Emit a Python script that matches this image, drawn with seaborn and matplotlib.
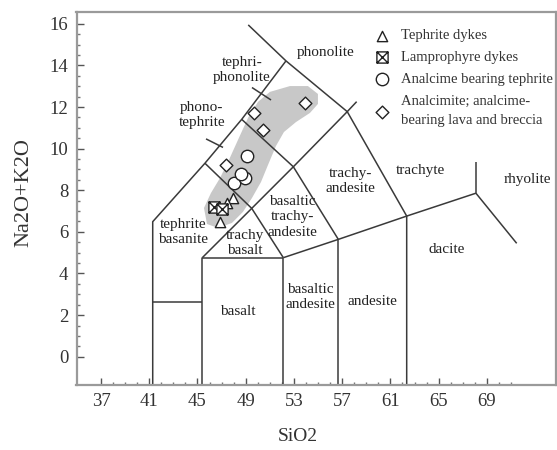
import matplotlib
matplotlib.use("Agg")
import matplotlib.pyplot as plt
import seaborn as sns
from matplotlib.path import Path
from matplotlib.ticker import FixedLocator

# ---- samples: SiO2 (wt%) vs Na2O+K2O (wt%) ----
tephrite_sio2 = [47.95, 47.45, 46.83]
tephrite_alk = [7.65, 7.39, 6.48]
lamprophyre_sio2 = [46.37, 47.07]
lamprophyre_alk = [7.20, 7.10]
anal_tephrite_sio2 = [47.99, 48.98, 48.57, 49.08]
anal_tephrite_alk = [8.34, 8.57, 8.76, 9.65]
analcimite_sio2 = [53.92, 49.69, 50.47, 47.39]
analcimite_alk = [12.18, 11.72, 10.91, 9.22]

group_labels = ["Tephrite dykes", "Lamprophyre dykes", "Analcime bearing tephrite",
                "Analcimite; analcime-\nbearing lava and breccia"]

# ---- shaded envelope of the sample population ----
field_sio2 = [45.79, 45.54, 46.12, 46.87, 47.61, 48.36, 49.19, 50.02, 51.01, 52.67,
              54.16, 54.99, 54.99, 54.33, 53.17, 52.17, 51.51, 50.85, 50.27, 49.52,
              48.77, 47.86, 46.70]
field_alk = [6.38, 7.15, 7.87, 8.59, 9.46, 10.42, 11.48, 12.25, 12.73, 13.01,
             13.01, 12.63, 12.15, 11.72, 11.28, 10.80, 10.13, 9.22, 8.40, 7.63,
             6.96, 6.43, 6.19]

# ---- TAS field boundaries ----
Y_BOTTOM = -1.36
A = (41.29, 6.49)
B = (45.62, 9.30)
C = (48.67, 11.41)
D = (52.34, 14.22)
E = (57.42, 11.78)
F = (52.95, 9.13)
G = (49.50, 7.13)
H = (45.40, 4.76)
I = (52.12, 4.76)
J = (56.68, 5.64)
K = (62.35, 6.76)
L = (68.09, 7.86)
foidite_top = (49.21, 15.95)
phonolite_stub = (58.20, 12.26)
rhyolite_top = (68.09, 9.38)
rhyolite_end = (71.47, 5.45)
picro_alk = 2.63

boundaries = [
    [(A[0], Y_BOTTOM), A, B, C, D],
    [(A[0], picro_alk), (H[0], picro_alk)],
    [(H[0], Y_BOTTOM), H, I, (I[0], Y_BOTTOM)],
    [H, G, F, E, phonolite_stub],
    [B, G, I],
    [C, F, J],
    [I, J, K, L],
    [J, (J[0], Y_BOTTOM)],
    [foidite_top, D, E, K, (K[0], Y_BOTTOM)],
    [L, rhyolite_top],
    [L, rhyolite_end],
    # label leaders
    [(45.71, 10.47), (47.12, 10.06)],
    [(49.52, 12.94), (51.10, 12.34)],
]

field_names = [
    ("tephri-\nphonolite", 48.69, 13.78),
    ("phono-\ntephrite", 45.37, 11.62),
    ("phonolite", 55.66, 14.60),
    ("tephrite\nbasanite", 43.80, 6.00),
    ("trachy\nbasalt", 48.94, 5.47),
    ("basaltic\ntrachy-\nandesite", 52.84, 6.72),
    ("trachy-\nandesite", 57.65, 8.45),
    ("trachyte", 63.45, 8.97),
    ("rhyolite", 72.32, 8.50),
    ("dacite", 65.69, 5.13),
    ("andesite", 59.55, 2.63),
    ("basaltic\nandesite", 54.33, 2.87),
    ("basalt", 48.36, 2.15),
]

x_ticks = [37, 41, 45, 49, 53, 57, 61, 65, 69]
x_minor = list(range(37, 72))
y_ticks = [0, 2, 4, 6, 8, 10, 12, 14, 16]
y_minor = [v / 2 for v in range(0, 33)]

sns.set_style("ticks")
plt.rcParams["font.family"] = ["Liberation Serif", "DejaVu Serif"]

fig = plt.figure(figsize=(5.57, 4.5), dpi=100)
ax = fig.add_axes([76.5 / 557, 1 - 385 / 450, (556 - 76.5) / 557, (385 - 12) / 450])

ax.fill(field_sio2, field_alk, color="#c8c8c8", lw=0, zorder=1)

for seg in boundaries:
    xs = [p[0] for p in seg]
    ys = [p[1] for p in seg]
    ax.plot(xs, ys, color="#3a3a3a", lw=1.1, zorder=2, solid_capstyle="butt")

boxed_x = Path(
    [(-1, -1), (1, -1), (1, 1), (-1, 1), (-1, -1), (-1, -1), (1, 1), (-1, 1), (1, -1)],
    [Path.MOVETO, Path.LINETO, Path.LINETO, Path.LINETO, Path.CLOSEPOLY,
     Path.MOVETO, Path.LINETO, Path.MOVETO, Path.LINETO],
)

common = dict(color="white", edgecolor="#222222", linewidth=1.0, zorder=4, ax=ax)
sns.scatterplot(x=tephrite_sio2, y=tephrite_alk, marker="^", s=55,
                label=group_labels[0], **common)
sns.scatterplot(x=lamprophyre_sio2, y=lamprophyre_alk, marker=boxed_x, s=65,
                label=group_labels[1], **common)
sns.scatterplot(x=anal_tephrite_sio2, y=anal_tephrite_alk, marker="o", s=80,
                label=group_labels[2], **common)
sns.scatterplot(x=analcimite_sio2, y=analcimite_alk, marker="D", s=42,
                label=group_labels[3], **common)

for name, x, y in field_names:
    ax.text(x, y, name, ha="center", va="center", fontsize=11, color="#222222",
            linespacing=1.25, zorder=3)

ax.set_xlim(34.97, 74.73)
ax.set_ylim(Y_BOTTOM, 16.57)

ax.xaxis.set_major_locator(FixedLocator(x_ticks))
ax.xaxis.set_minor_locator(FixedLocator(x_minor))
ax.yaxis.set_major_locator(FixedLocator(y_ticks))
ax.yaxis.set_minor_locator(FixedLocator(y_minor))
ax.set_xticklabels([str(t) for t in x_ticks])
ax.set_yticklabels([str(t) for t in y_ticks])
ax.tick_params(axis="both", which="major", direction="in", length=5, width=1,
               color="#555555", labelsize=13.5, labelcolor="#333333", pad=6)
ax.tick_params(axis="both", which="minor", direction="in", length=2.5, width=1,
               color="#777777")
ax.tick_params(axis="x", which="both", top=False)
ax.tick_params(axis="y", which="both", right=False)

for side in ["left", "bottom", "top", "right"]:
    ax.spines[side].set_color("#9a9a9a")
    ax.spines[side].set_linewidth(1.6)

ax.set_xlabel("SiO2", fontsize=14, color="#333333")
ax.set_ylabel("Na2O+K2O", fontsize=16, color="#333333")
ax.xaxis.set_label_coords(0.462, -0.115)
ax.yaxis.set_label_coords(-0.089, 0.517)

leg = ax.legend(loc="upper left", bbox_to_anchor=(0.6225, 0.954), frameon=False,
                fontsize=10.5, handletextpad=0.8, labelspacing=0.6,
                borderaxespad=0, borderpad=0, handlelength=1.0)
for t in leg.get_texts():
    t.set_color("#333333")
leg.get_texts()[3].set_linespacing(1.55)
leg.set_zorder(5)

fig.savefig("out.png", dpi=100, facecolor="white")
